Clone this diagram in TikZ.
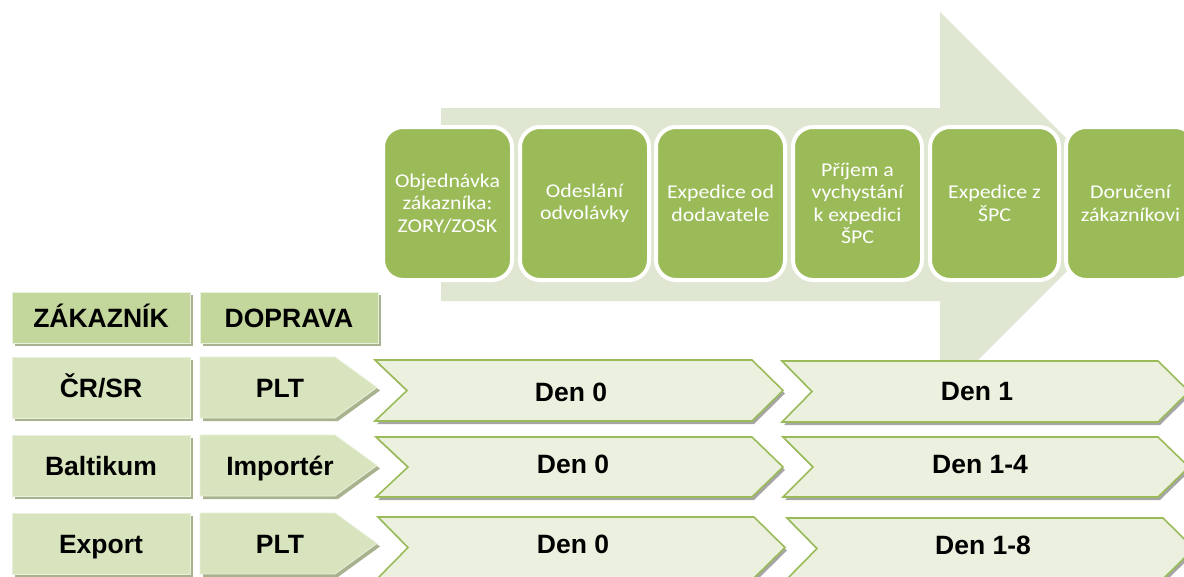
\documentclass[tikz,border=0pt]{standalone}
\usepackage{fontspec}
\usepackage{graphicx}
\setmainfont{Liberation Sans}
\newfontfamily\stepfont{Carlito}
\usetikzlibrary{shadows}
\definecolor{stepgreen}{HTML}{9BBB59}
\definecolor{arrowgreen}{HTML}{DFE7D2}
\definecolor{headgreen}{HTML}{C3D69B}
\definecolor{rowgreen}{HTML}{D7E4BD}
\definecolor{chevfill}{HTML}{EBF1DE}
\definecolor{chevline}{HTML}{9BBB59}
\definecolor{cellshadow}{HTML}{A8B28E}
\definecolor{chevshadow}{HTML}{A6A6A6}
\newcommand\sx[1]{\scalebox{1.12}[1]{#1}}
\tikzset{
  stepbox/.style={draw=white, line width=4pt, fill=stepgreen, rounded corners=20pt,
    minimum width=129pt, minimum height=153pt, inner sep=0pt, align=center,
    text=white, font=\stepfont\fontsize{19.5}{22.5}\selectfont},
  celltext/.style={font=\bfseries\fontsize{26.5}{30}\selectfont, text height=19pt, text depth=0pt, inner sep=0pt},
  cellbox/.style={celltext, draw=white!45!rowgreen, line width=0.8pt,
    minimum width=178pt, drop shadow={shadow xshift=3pt, shadow yshift=-3pt, fill=cellshadow, opacity=1}},
  headcell/.style={cellbox, fill=headgreen, minimum height=51pt},
  rowcell/.style={cellbox, fill=rowgreen, minimum height=61pt},
  pentpath/.style={fill=rowgreen, draw=white!45!rowgreen, line width=0.8pt,
    drop shadow={shadow xshift=3pt, shadow yshift=-3pt, fill=cellshadow, opacity=1}},
  chevpath/.style={fill=chevfill, draw=chevline, line width=1.6pt, line join=miter,
    drop shadow={shadow xshift=2pt, shadow yshift=-3pt, fill=chevshadow, opacity=1}},
}
\begin{document}
\begin{tikzpicture}[x=1pt,y=-1pt]
\useasboundingbox (0,0) rectangle (1184,576);
\clip (0,0) rectangle (1184,576);
% big background arrow
\fill[arrowgreen] (441,108) -- (940,108) -- (940,12) -- (1133,205) -- (940,398) -- (940,301) -- (441,301) -- cycle;
% process steps
\node[stepbox] (s1) at (447.5,203.5) {\sx{Objednávka}\\\sx{zákazníka:}\\\sx{ZORY/ZOSK}};
\node[stepbox] (s2) at (584.5,203.5) {\sx{Odeslání}\\\sx{odvolávky}};
\node[stepbox] (s3) at (720.5,203.5) {\sx{Expedice od}\\\sx{dodavatele}};
\node[stepbox] (s4) at (857.5,203.5) {\sx{Příjem a}\\\sx{vychystání}\\\sx{k expedici}\\\sx{ŠPC}};
\node[stepbox] (s5) at (994.5,203.5) {\sx{Expedice z}\\\sx{ŠPC}};
\node[stepbox] (s6) at (1130.5,203.5) {\sx{Doručení}\\\sx{zákazníkovi}};
% header cells
\node[headcell] (h1) at (101,317.5) {ZÁKAZNÍK};
\node[headcell] (h2) at (289,317.5) {DOPRAVA};
% customer cells
\node[rowcell] (c1) at (101,387.5) {ČR/SR};
\node[rowcell] (c2) at (101,465.5) {Baltikum};
\node[rowcell] (c3) at (101,543.5) {Export};
% transport pentagons
\path[pentpath] (200,357) -- (335,357) -- (377,387.5) -- (335,418) -- (200,418) -- cycle;
\path[pentpath] (200,435) -- (335,435) -- (377,465.5) -- (335,496) -- (200,496) -- cycle;
\path[pentpath] (200,513) -- (335,513) -- (377,543.5) -- (335,574) -- (200,574) -- cycle;
\node[celltext] (t1) at (280,387.5) {PLT};
\node[celltext] (t2) at (280,465.5) {Importér};
\node[celltext] (t3) at (280,543.5) {PLT};
% chevrons
\path[chevpath] (375,360) -- (752,360) -- (783,390.5) -- (752,421) -- (375,421) -- (407,390.5) -- cycle;
\path[chevpath] (376,437) -- (752,437) -- (783,467) -- (752,497) -- (376,497) -- (408,467) -- cycle;
\path[chevpath] (378,517) -- (754,517) -- (785,547.5) -- (754,578) -- (378,578) -- (408,547.5) -- cycle;
\path[chevpath] (782,361) -- (1158,361) -- (1189,391.5) -- (1158,422) -- (782,422) -- (812,391.5) -- cycle;
\path[chevpath] (783,437) -- (1158,437) -- (1189,467) -- (1158,497) -- (783,497) -- (813,467) -- cycle;
\path[chevpath] (787,518) -- (1163,518) -- (1194,548.5) -- (1163,579) -- (787,579) -- (817,548.5) -- cycle;
\node[celltext] (d1) at (571,392) {Den 0};
\node[celltext] (d2) at (573,464) {Den 0};
\node[celltext] (d3) at (573,544) {Den 0};
\node[celltext] (e1) at (977,391) {Den 1};
\node[celltext] (e2) at (980,464) {Den 1-4};
\node[celltext] (e3) at (983,545) {Den 1-8};
\end{tikzpicture}
\end{document}
